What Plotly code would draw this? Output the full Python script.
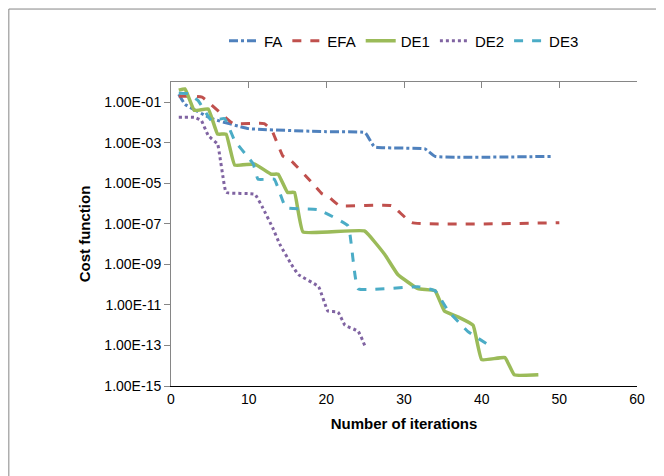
import plotly.graph_objects as go

# values: iteration, log10(cost)
fa_x = [1, 1.8, 5.2, 10, 20, 25, 26.2, 32.7, 34, 49]
fa_e = [-0.6, -1.1, -1.8, -2.3, -2.45, -2.5, -3.2, -3.3, -3.67, -3.67]

efa_x = [1, 4, 7, 8, 12, 13, 14.4, 15.5, 18, 19.4, 20.4, 21.7, 28.4, 31, 50]
efa_e = [-0.7, -0.75, -1.75, -2.05, -2.05, -2.4, -3.65, -3.9, -4.9, -5.5, -5.7, -6.1, -6.1, -6.94, -6.94]

de1_x = [1, 1.8, 3, 4.8, 6, 7.1, 8.2, 10.8, 12.9, 13.8, 15, 15.9, 17, 24.9, 27.5, 29.2,
         31.8, 34, 35.2, 37, 38.9, 40, 43, 44.2, 47.3]
de1_e = [-0.4, -0.34, -1.4, -1.33, -2.57, -2.57, -4.1, -4.05, -4.55, -4.55, -5.45, -5.45,
         -7.4, -7.35, -8.5, -9.5, -10.2, -10.3, -11.3, -11.6, -12.0, -13.7, -13.6, -14.45, -14.45]

de2_x = [1, 3, 3.9, 4.8, 6, 6.3, 6.7, 7.1, 10.8, 11.8, 13.1, 14, 15.5, 16.4, 19, 20.2,
         21.5, 22.4, 24.1, 25]
de2_e = [-1.74, -1.74, -1.9, -2.65, -3.06, -3.7, -4.7, -5.45, -5.54, -6.2, -7.2, -8.0,
         -9.0, -9.5, -10.1, -11.3, -11.35, -12.0, -12.3, -13.05]

de3_x = [1, 2.2, 3.5, 5.2, 6.9, 8.2, 9.9, 10.6, 11.2, 13.3, 14.8, 18.9, 22.8, 24.1,
         31.8, 34, 35.7, 38.2, 41.2]
de3_e = [-0.55, -0.57, -0.92, -1.9, -1.8, -2.9, -3.7, -4.05, -4.8, -4.8, -6.2, -6.3,
         -7.1, -10.2, -10.1, -10.3, -11.3, -12.3, -13.05]

tick_exps = [-1, -3, -5, -7, -9, -11, -13, -15]
tick_text = ["1.00E-%02d" % -e for e in tick_exps]

series = [
    ("FA", fa_x, fa_e, "#4F81BD", "dashdot", 3),
    ("EFA", efa_x, efa_e, "#C0504D", "dash", 3),
    ("DE1", de1_x, de1_e, "#9BBB59", "solid", 3.5),
    ("DE2", de2_x, de2_e, "#8064A2", "dot", 3),
    ("DE3", de3_x, de3_e, "#4BACC6", "dash", 3),
]

fig = go.Figure()
for name, xs, es, color, dash, w in series:
    fig.add_trace(go.Scatter(
        x=xs, y=[10 ** e for e in es], name=name, mode="lines",
        line=dict(color=color, dash=dash, width=w, shape="spline", smoothing=0.3)
    ))

# invisible trace so the top axis (Excel-style crossing at 1) gets drawn
fig.add_trace(go.Scatter(x=[0], y=[1], xaxis="x2", showlegend=False, mode="markers",
                         marker=dict(opacity=0), hoverinfo="skip"))

fig.update_layout(
    width=664, height=476,
    paper_bgcolor="white", plot_bgcolor="white",
    font=dict(family="Liberation Sans, Arial", size=14, color="black"),
    margin=dict(l=163, r=35, t=74, b=98, autoexpand=False),
    legend=dict(orientation="h", x=0.5, xanchor="center", y=1.135, yanchor="middle",
                font=dict(size=15)),
    xaxis=dict(range=[0, 60], dtick=10, showgrid=False, zeroline=False,
               showline=True, linecolor="#000", linewidth=1, ticks="",
               title=dict(text="<b>Number of iterations</b>", font=dict(size=15), standoff=12)),
    xaxis2=dict(range=[0, 60], dtick=10, overlaying="x", side="top", showgrid=False,
                showline=True, linecolor="#868686", ticks="inside", ticklen=6,
                tickcolor="#868686", showticklabels=False),
    yaxis=dict(type="log", range=[-15, 0], tickvals=[10 ** e for e in tick_exps],
               ticktext=tick_text, showgrid=False, zeroline=False, showline=True,
               linecolor="#868686", ticks="outside", ticklen=6, tickcolor="#868686",
               title=dict(text="<b>Cost function</b>", font=dict(size=15), standoff=10)),
    shapes=[dict(type="rect", xref="paper", yref="paper", x0=-0.348, x1=1.073,
                 y0=-0.319, y1=1.24, line=dict(color="#868686", width=1))],
)

fig.write_html("out.html")
